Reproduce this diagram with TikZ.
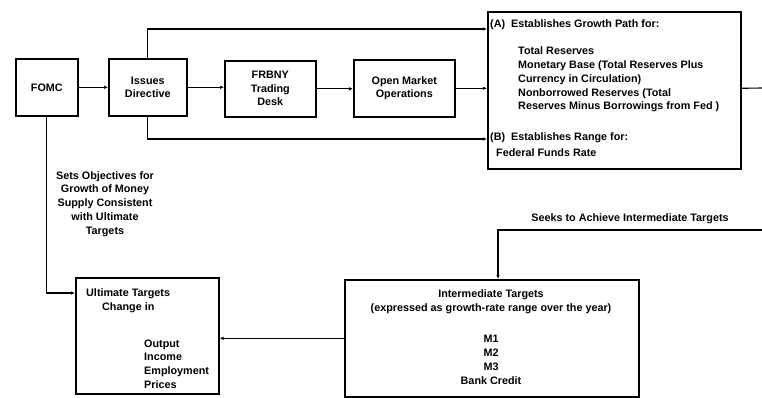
\documentclass[tikz,border=0pt]{standalone}
\usepackage{fontspec}
\setmainfont{Liberation Sans}
\usetikzlibrary{arrows.meta}
\begin{document}
\begin{tikzpicture}[x=1pt,y=-1pt,
  box/.style={draw,line width=1.6pt,inner sep=0pt,anchor=north west,
    font=\bfseries\fontsize{10.8}{13.5}\selectfont,align=center},
  lbl/.style={font=\bfseries\fontsize{10.8}{13.8}\selectfont,align=center,inner sep=0pt},
  txt/.style={font=\bfseries\fontsize{10.8}{13.8}\selectfont,align=left,anchor=west,inner sep=0pt},
  conn/.style={line width=1.1pt},
  arr/.style={conn,-{Latex[length=4pt,width=3.5pt]}}]
\useasboundingbox[fill=white] (0,0) rectangle (762,398);

% boxes
\node[box,minimum width=62pt,minimum height=57pt] (fomc) at (15,58) {FOMC};
\node[box,minimum width=78pt,minimum height=57pt] (issues) at (108,58) {Issues\\Directive};
\node[box,minimum width=91pt,minimum height=56pt] (frbny) at (224,60) {FRBNY\\Trading\\Desk};
\node[box,minimum width=101pt,minimum height=57pt] (omo) at (353,59) {Open Market\\Operations};
\node[box,minimum width=253pt,minimum height=157pt] (big) at (487,11) {};
\node[box,minimum width=143pt,minimum height=116pt] (ult) at (75,277) {};
\node[box,minimum width=294pt,minimum height=117pt] (inter) at (344,279) {};

% text in the big box
\node[txt] (ta) at (490,25) {(A)\ \ Establishes Growth Path for:};
\node[txt] (tal) at (518,79.5) {Total Reserves\\Monetary Base (Total Reserves Plus\\Currency in Circulation)\\Nonborrowed Reserves (Total\\Reserves Minus Borrowings from Fed )};
\node[txt] (tb) at (490,138) {(B)\ \ Establishes Range for:};
\node[txt] (tbl) at (496,153) {Federal Funds Rate};

% text in the ultimate box
\node[txt] (u1) at (86,294) {Ultimate Targets};
\node[txt] (u2) at (102,308) {Change in};
\node[txt] (u3) at (144,364) {Output\\Income\\Employment\\Prices};

% text in the intermediate box
\node[lbl] (i1) at (491,301.5) {Intermediate Targets\\(expressed as growth-rate range over the year)};
\node[lbl] (i2) at (491,360) {M1\\M2\\M3\\Bank Credit};

% free labels
\node[lbl] (sets) at (105,204) {Sets Objectives for\\Growth of Money\\Supply Consistent\\with Ultimate\\Targets};
\node[lbl] (seeks) at (630,219) {Seeks to Achieve Intermediate Targets};

% helper coordinates
\coordinate (topy) at (0,29);
\coordinate (boty) at (0,139);
\coordinate (ulty) at (0,293);
\coordinate (rightend) at (762,88);
\coordinate (seeksend) at (762,230);
\coordinate (seekcorner) at (498,230);

% connectors
\draw[arr] (fomc.east) -- (issues.west);
\draw[arr] (issues.east) -- (issues.east -| frbny.west);
\draw[arr] (frbny.east) -- (frbny.east -| omo.west);
\draw[arr] (omo.east) -- (omo.east -| big.west);
\draw[arr] (issues.north) |- (big.west |- topy);
\draw[arr] (issues.south) |- (big.west |- boty);
\draw[conn] (big.east |- omo.east) -- (rightend);
\draw[arr] (seeksend) -- (seekcorner) -- (seekcorner |- inter.north);
\draw[arr] (fomc.south) |- (ult.west |- ulty);
\draw[arr] (inter.west) -- (inter.west -| ult.east);
\end{tikzpicture}
\end{document}
